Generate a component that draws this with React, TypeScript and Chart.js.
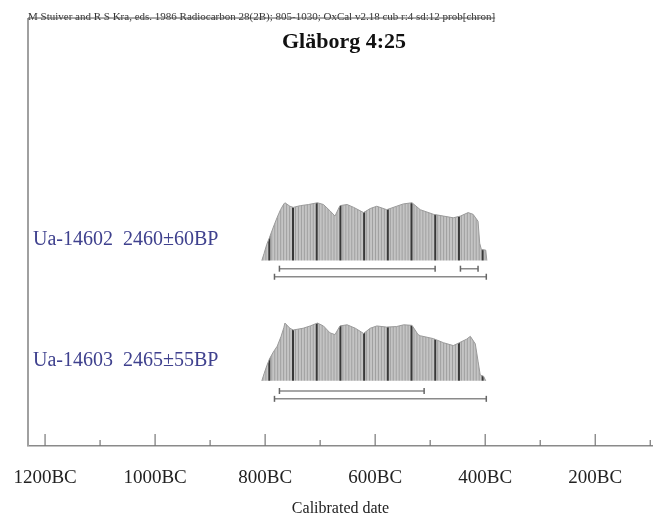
import React, { useEffect, useRef } from "react";
import { Chart, registerables } from "chart.js";
Chart.register(...registerables);

const HEADER = "M Stuiver and R S Kra, eds. 1986 Radiocarbon 28(2B); 805-1030; OxCal v2.18 cub r:4 sd:12 prob[chron]";
const TITLE = "Gläborg 4:25";
const X_TITLE = "Calibrated date";
const majorTicks = [1200, 1000, 800, 600, 400, 200];
const minorTicks = [1100, 900, 700, 500, 300, 100];

const sampleLabels = ["Ua-14602  2460±60BP", "Ua-14603  2465±55BP"];

// Ua-14602 probability distribution (years BC, relative probability)
const years1 = [806, 802, 797, 792, 785, 778, 772, 766, 764, 755, 749, 736, 721, 705, 694, 682, 673, 664, 651, 639, 621, 609, 597, 579, 561, 549, 533, 518, 494, 476, 458, 445, 431, 422, 413, 410, 407, 399, 397];
const prob1 = [0, 0.12, 0.28, 0.4, 0.58, 0.75, 0.88, 0.98, 1.0, 0.94, 0.92, 0.95, 0.97, 1.0, 0.97, 0.86, 0.77, 0.95, 0.97, 0.92, 0.83, 0.9, 0.94, 0.88, 0.94, 0.98, 1.0, 0.88, 0.8, 0.77, 0.74, 0.77, 0.83, 0.8, 0.68, 0.3, 0.19, 0.18, 0];

// Ua-14603 probability distribution
const years2 = [806, 802, 797, 792, 785, 778, 771, 766, 764, 755, 749, 731, 718, 705, 694, 682, 673, 664, 651, 636, 621, 609, 597, 579, 561, 548, 533, 522, 518, 494, 476, 458, 449, 434, 427, 418, 413, 409, 403, 399];
const prob2 = [0, 0.12, 0.26, 0.38, 0.5, 0.6, 0.77, 0.92, 1.0, 0.91, 0.88, 0.91, 0.95, 1.0, 0.95, 0.83, 0.8, 0.95, 0.97, 0.91, 0.82, 0.91, 0.95, 0.93, 0.94, 0.97, 0.96, 0.8, 0.78, 0.73, 0.66, 0.61, 0.65, 0.72, 0.77, 0.64, 0.34, 0.1, 0.08, 0];

// highest probability ranges (BC)
const range68_1 = [[774, 491], [445, 413]];
const range95_1 = [[783, 398]];
const range68_2 = [[774, 511]];
const range95_2 = [[783, 398]];

export default function App() {
  const ref = useRef<HTMLCanvasElement>(null);
  useEffect(() => {
    const canvas = ref.current!;
    const ctx = canvas.getContext("2d")!;
    const pc = document.createElement("canvas");
    pc.width = 24;
    pc.height = 4;
    const g = pc.getContext("2d")!;
    g.fillStyle = "#c4c4c4";
    g.fillRect(0, 0, 24, 4);
    g.fillStyle = "#a0a0a0";
    for (let i = 3; i < 24; i += 3) g.fillRect(i, 0, 1, 4);
    g.fillStyle = "#383838";
    g.fillRect(0, 0, 2, 4);
    const pat = ctx.createPattern(pc, "repeat")!;
    pat.setTransform(new DOMMatrix([23.7 / 24, 0, 0, 1, 268.3, 0]));

    const BASE = [1.542, 0.542];
    const PEAK = 0.48;
    const OFF68 = [0.068, 0.085];
    const OFF95 = [0.135, 0.15];

    const distDs = (years: number[], prob: number[], base: number) => ({
      type: "line" as const,
      data: years.map((x, i) => ({ x, y: base + prob[i] * PEAK })),
      fill: { value: base },
      backgroundColor: pat,
      borderColor: "#9a9a9a",
      borderWidth: 1,
      pointRadius: 0,
      tension: 0,
    });
    const rangeDs = (ranges: number[][], y: number) => {
      const pts: any[] = [];
      ranges.forEach(([a, b]) => {
        pts.push({ x: a, y }, { x: b, y }, { x: b, y: null });
      });
      return {
        type: "line" as const,
        data: pts,
        borderColor: "#8a8a8a",
        borderWidth: 1.5,
        pointStyle: "line",
        rotation: 90,
        pointRadius: 3,
        pointBorderColor: "#666",
        pointBorderWidth: 1.5,
        spanGaps: false,
        fill: false,
      };
    };

    const decor = {
      id: "decor",
      afterDraw(chart: any) {
        const c = chart.ctx;
        const { left, top, bottom } = chart.chartArea;
        const xs = chart.scales.x;
        const ys = chart.scales.y;
        c.save();
        // frame
        c.strokeStyle = "#a0a0a0";
        c.lineWidth = 2;
        c.beginPath();
        c.moveTo(left, top);
        c.lineTo(left, bottom);
        c.stroke();
        // header
        c.fillStyle = "#333";
        c.font = "11px 'Liberation Serif'";
        c.textBaseline = "middle";
        c.textAlign = "left";
        c.fillText(HEADER, left, top - 1);
        const hw = c.measureText(HEADER).width;
        c.strokeStyle = "#555";
        c.lineWidth = 1;
        c.beginPath();
        c.moveTo(left, top);
        c.lineTo(left + hw, top);
        c.stroke();
        // title
        c.fillStyle = "#111";
        c.font = "bold 22px 'Liberation Serif'";
        c.textAlign = "center";
        c.textBaseline = "alphabetic";
        c.fillText(TITLE, 344, top + 30);
        // sample labels
        c.fillStyle = "#3f418e";
        c.font = "20px 'Liberation Serif'";
        c.textAlign = "left";
        c.textBaseline = "middle";
        sampleLabels.forEach((t, i) => {
          c.fillText(t, left + 5, ys.getPixelForValue(BASE[i] + 0.17));
        });
        // ticks
        c.strokeStyle = "#777";
        c.lineWidth = 1.2;
        majorTicks.forEach((v) => {
          const x = xs.getPixelForValue(v);
          c.beginPath();
          c.moveTo(x, bottom);
          c.lineTo(x, bottom - 12);
          c.stroke();
        });
        minorTicks.forEach((v) => {
          const x = xs.getPixelForValue(v);
          c.beginPath();
          c.moveTo(x, bottom);
          c.lineTo(x, bottom - 6);
          c.stroke();
        });
        c.restore();
      },
    };

    const chart = new Chart(ctx, {
      type: "line",
      data: {
        datasets: [
          distDs(years1, prob1, BASE[0]) as any,
          distDs(years2, prob2, BASE[1]) as any,
          rangeDs(range68_1, BASE[0] - OFF68[0]) as any,
          rangeDs(range95_1, BASE[0] - OFF95[0]) as any,
          rangeDs(range68_2, BASE[1] - OFF68[1]) as any,
          rangeDs(range95_2, BASE[1] - OFF95[1]) as any,
        ],
      },
      options: {
        animation: false,
        responsive: true,
        maintainAspectRatio: false,
        layout: { autoPadding: false, padding: { top: 18, left: 28, right: 0, bottom: 0 } },
        plugins: { legend: { display: false }, tooltip: { enabled: false }, title: { display: false } },
        scales: {
          x: {
            type: "linear",
            min: 95,
            max: 1231,
            reverse: true,
            grid: { display: false, drawTicks: false },
            border: { display: true, color: "#8a8a8a", width: 1.5 },
            afterBuildTicks: (s: any) => {
              s.ticks = majorTicks.map((v) => ({ value: v }));
            },
            afterFit: (s: any) => {
              s.paddingLeft = 0;
              s.paddingRight = 0;
              s.height = 76;
            },
            ticks: {
              autoSkip: false,
              maxRotation: 0,
              padding: 21,
              color: "#222",
              font: { family: "'Liberation Serif'", size: 19 },
              callback: (v: any) => v + "BC",
            },
            title: {
              display: true,
              text: X_TITLE,
              color: "#222",
              font: { family: "'Liberation Serif'", size: 16 },
              padding: { top: 0, bottom: 4 },
            },
          },
          y: { display: false, min: 0, max: 3.558 },
        },
      },
      plugins: [decor],
    });
    return () => chart.destroy();
  }, []);
  return (
    <div style={{ position: "fixed", left: 0, top: 0, width: 653, height: 522, background: "#fff" }}>
      <canvas ref={ref} />
    </div>
  );
}
